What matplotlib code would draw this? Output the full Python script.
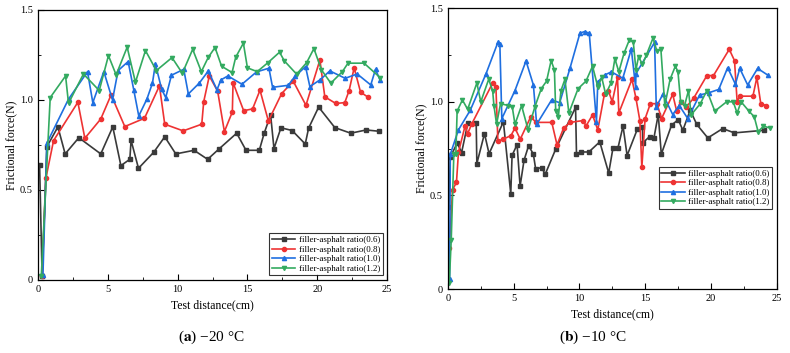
import matplotlib
matplotlib.use("Agg")
import matplotlib.pyplot as plt
from matplotlib.ticker import MultipleLocator

plt.rcParams['font.family'] = ['Liberation Serif', 'DejaVu Serif']
plt.rcParams['mathtext.fontset'] = 'stix'

# ---- (a) -20 C ----
a_x06 = [0.12, 0.3, 0.64, 1.43, 1.95, 2.93, 4.5, 5.36, 5.94, 6.58, 6.67, 7.2, 8.3, 9.08, 9.87,
         11.18, 12.15, 13.0, 14.23, 14.9, 15.85, 16.2, 16.66, 16.9, 17.4, 18.2, 19.14, 19.38,
         20.1, 21.26, 22.4, 23.5, 24.4]
a_y06 = [0.64, 0.02, 0.74, 0.85, 0.70, 0.79, 0.70, 0.85, 0.635, 0.67, 0.775, 0.62, 0.71, 0.795,
         0.70, 0.72, 0.67, 0.73, 0.815, 0.72, 0.72, 0.815, 0.917, 0.73, 0.845, 0.83, 0.755, 0.843,
         0.96, 0.846, 0.815, 0.833, 0.826]
a_x08 = [0.3, 0.57, 1.12, 2.86, 3.36, 4.5, 5.24, 6.22, 7.63, 8.7, 9.08, 10.4, 11.73, 11.87,
         12.27, 12.87, 13.35, 13.92, 13.97, 14.73, 15.37, 15.9, 16.5, 17.45, 18.28, 19.19, 20.19,
         20.54, 21.33, 21.97, 22.28, 22.64, 23.1, 23.6]
a_y08 = [0.02, 0.565, 0.774, 0.987, 0.787, 0.894, 1.028, 0.852, 0.898, 1.078, 0.865, 0.828,
         0.865, 0.99, 1.133, 1.048, 0.824, 0.933, 1.096, 0.94, 0.95, 1.054, 0.883, 1.035, 1.104,
         0.97, 1.222, 1.017, 0.98, 0.985, 1.052, 1.178, 1.043, 1.017]
a_x10 = [0.36, 0.64, 2.19, 3.55, 3.93, 4.72, 5.34, 5.74, 6.46, 6.86, 7.22, 7.8, 8.2, 8.41, 8.86,
         9.15, 9.56, 10.44, 10.77, 11.56, 12.2, 12.82, 13.1, 13.6, 14.61, 15.66, 16.54, 16.8,
         17.92, 18.4, 19.16, 19.47, 20.19, 20.9, 22.0, 22.86, 23.83, 24.17, 24.5]
a_y10 = [0.03, 0.76, 1.004, 1.157, 0.985, 1.157, 1.0, 1.163, 1.213, 1.056, 0.911, 1.004, 1.093,
         1.2, 1.059, 1.013, 1.137, 1.17, 1.033, 1.094, 1.161, 1.056, 1.111, 1.133, 1.087, 1.156,
         1.176, 1.07, 1.081, 1.13, 1.185, 1.074, 1.111, 1.161, 1.12, 1.144, 1.083, 1.17, 1.109]
a_x12 = [0.24, 0.88, 1.98, 2.19, 3.26, 4.39, 5.05, 5.6, 6.39, 6.98, 7.7, 8.48, 9.6, 10.34, 11.08,
         11.7, 12.2, 12.68, 13.15, 13.9, 14.16, 14.71, 15.0, 15.7, 16.47, 17.3, 17.64, 18.52,
         19.24, 19.76, 20.3, 20.97, 21.8, 22.2, 23.35, 24.5]
a_y12 = [0.02, 1.013, 1.133, 0.981, 1.144, 1.052, 1.246, 1.139, 1.293, 1.098, 1.274, 1.163,
         1.235, 1.148, 1.281, 1.157, 1.237, 1.291, 1.187, 1.152, 1.237, 1.315, 1.178, 1.157,
         1.207, 1.265, 1.217, 1.143, 1.207, 1.285, 1.167, 1.093, 1.157, 1.204, 1.204, 1.124]

# ---- (b) -10 C ----
b_x06 = [0.08, 0.18, 0.71, 1.04, 1.52, 2.15, 2.2, 2.78, 3.13, 4.22, 4.78, 4.88, 5.26, 5.49,
         5.79, 6.14, 6.5, 6.67, 7.13, 7.4, 8.19, 9.71, 9.78, 10.09, 10.72, 11.55, 12.23, 12.56,
         12.94, 13.32, 13.63, 14.41, 14.79, 14.84, 15.34, 15.67, 16.0, 16.23, 17.01, 17.52,
         17.87, 18.43, 18.93, 19.77, 20.9, 21.79, 24.06]
b_y06 = [0.44, 0.705, 0.78, 0.729, 0.888, 0.888, 0.67, 0.83, 0.723, 0.893, 0.509, 0.714, 0.771,
         0.55, 0.688, 0.766, 0.72, 0.643, 0.648, 0.613, 0.746, 0.97, 0.72, 0.732, 0.732, 0.786,
         0.62, 0.755, 0.755, 0.87, 0.713, 0.854, 0.866, 0.782, 0.814, 0.807, 0.932, 0.72, 0.875,
         0.905, 0.848, 0.955, 0.879, 0.807, 0.857, 0.834, 0.848]
b_x08 = [0.1, 0.35, 0.65, 0.8, 1.3, 1.5, 1.8, 3.4, 3.65, 3.8, 4.2, 4.8, 5.1, 5.5, 6.3, 6.7, 7.9,
         8.3, 8.8, 9.3, 10.3, 10.5, 11.0, 11.4, 11.9, 12.2, 12.5, 12.9, 13.0, 14.0, 14.3, 14.6,
         14.75, 15.0, 15.4, 15.9, 16.25, 17.1, 17.4, 17.7, 18.1, 18.7, 19.7, 20.2, 21.4, 21.8,
         22.0, 22.2, 23.2, 23.5, 23.8, 24.2]
b_y08 = [0.22, 0.53, 0.57, 0.73, 0.87, 0.83, 0.88, 1.1, 1.08, 0.79, 0.80, 0.82, 0.86, 0.80,
         0.92, 0.89, 0.89, 0.77, 0.86, 0.89, 0.90, 0.87, 0.93, 0.85, 1.04, 1.06, 1.0, 1.13, 0.94,
         1.12, 1.02, 0.90, 0.65, 0.91, 0.99, 0.99, 0.91, 1.04, 0.95, 1.0, 0.97, 1.02, 1.14, 1.14,
         1.28, 1.22, 1.0, 1.03, 1.03, 1.13, 0.99, 0.98]
b_x10 = [0.13, 0.18, 0.8, 1.7, 2.9, 3.8, 3.95, 4.1, 5.1, 5.94, 6.5, 6.75, 7.89, 8.5, 9.28, 10.04,
         10.4, 10.75, 11.3, 11.4, 11.93, 12.44, 13.3, 13.95, 14.28, 14.3, 15.72, 15.85, 16.35,
         17.1, 17.6, 18.25, 19.14, 19.84, 20.6, 21.28, 21.87, 22.2, 22.8, 23.56, 24.32]
b_y10 = [0.054, 0.72, 0.85, 0.955, 1.15, 1.317, 1.31, 0.91, 1.06, 1.218, 1.09, 0.88, 1.01,
         0.995, 1.178, 1.366, 1.375, 1.366, 0.893, 1.107, 1.143, 1.16, 1.125, 1.282, 1.077,
         1.15, 1.317, 0.973, 1.04, 0.932, 0.98, 0.91, 1.036, 1.048, 1.066, 1.182, 1.094, 1.178,
         1.09, 1.178, 1.143]
b_x12 = [0.1, 0.25, 0.45, 0.6, 0.7, 1.1, 1.5, 2.2, 2.5, 3.1, 3.4, 3.5, 3.7, 4.0, 4.6, 4.9, 5.1,
         5.6, 6.1, 6.6, 7.1, 7.5, 7.85, 8.1, 8.2, 8.4, 8.6, 8.9, 9.2, 9.9, 10.5, 11.0, 11.4,
         11.7, 12.0, 12.4, 12.7, 13.0, 13.4, 13.8, 14.1, 14.3, 14.5, 14.8, 15.1, 15.6, 15.9,
         16.2, 16.5, 16.9, 17.3, 17.5, 17.7, 18.0, 18.3, 18.5, 19.2, 19.7, 20.3, 21.2, 21.7,
         22.0, 22.3, 22.9, 23.3, 23.6, 24.0, 24.5]
b_y12 = [0.03, 0.26, 0.72, 0.72, 0.95, 1.01, 0.96, 1.1, 1.0, 1.12, 1.06, 0.98, 0.88, 0.99, 0.98,
         0.97, 0.88, 0.98, 0.85, 0.97, 1.07, 1.11, 1.22, 1.17, 0.95, 0.92, 1.06, 1.12, 0.94,
         1.07, 1.11, 1.19, 1.08, 1.13, 1.04, 1.1, 1.23, 1.16, 1.26, 1.33, 1.32, 1.17, 1.24, 1.2,
         1.25, 1.34, 1.27, 1.28, 0.98, 1.12, 1.19, 1.16, 1.0, 0.98, 1.06, 0.93, 0.99, 1.06, 0.95,
         1.0, 1.0, 0.94, 1.0, 0.95, 0.92, 0.84, 0.87, 0.86]

labels = ["filler-asphalt ratio(0.6)", "filler-asphalt ratio(0.8)",
          "filler-asphalt ratio(1.0)", "filler-asphalt ratio(1.2)"]
colors = ["#3a3a3a", "#ee3333", "#1f6fe0", "#33aa60"]
markers = ["s", "o", "^", "v"]


def draw(ax, series):
    for (x, y), lab, c, m in zip(series, labels, colors, markers):
        ax.plot(x, y, color=c, marker=m, markersize=3, linewidth=1.2, label=lab)
    ax.set_xlim(0, 25)
    ax.set_ylim(0, 1.5)
    ax.xaxis.set_major_locator(MultipleLocator(5))
    ax.xaxis.set_minor_locator(MultipleLocator(2.5))
    ax.yaxis.set_major_locator(MultipleLocator(0.5))
    ax.yaxis.set_minor_locator(MultipleLocator(0.25))
    ax.yaxis.set_major_formatter(
        plt.FuncFormatter(lambda v, p: "0" if v == 0 else "%.1f" % v))
    ax.tick_params(which="both", direction="in", labelsize=7.5)
    ax.tick_params(which="major", length=4)
    ax.tick_params(which="minor", length=2)
    ax.set_xlabel("Test distance(cm)", fontsize=8.5)
    ax.set_ylabel("Frictional force(N)", fontsize=8.5, labelpad=2)
    for s in ax.spines.values():
        s.set_linewidth(0.9)


fig = plt.figure(figsize=(7.9, 3.53), dpi=100)
ax1 = fig.add_axes([0.048, 0.207, 0.442, 0.765])
ax2 = fig.add_axes([0.567, 0.181, 0.416, 0.796])

draw(ax1, [(a_x06, a_y06), (a_x08, a_y08), (a_x10, a_y10), (a_x12, a_y12)])
draw(ax2, [(b_x06, b_y06), (b_x08, b_y08), (b_x10, b_y10), (b_x12, b_y12)])

leg_kw = dict(fontsize=6.4, frameon=True, fancybox=False, edgecolor="black",
              handlelength=2.6, borderpad=0.3, labelspacing=0.15, handletextpad=0.4)
l1 = ax1.legend(loc="lower right", bbox_to_anchor=(1.0, 0.0), **leg_kw)
l2 = ax2.legend(loc="center right", bbox_to_anchor=(1.0, 0.36), **leg_kw)
for l in (l1, l2):
    l.get_frame().set_linewidth(0.8)

fig.text(0.268, 0.035, r"($\mathbf{a}$) −20 °C", ha="center", fontsize=11)
fig.text(0.75, 0.035, r"($\mathbf{b}$) −10 °C", ha="center", fontsize=11)

fig.savefig("out.png", dpi=100)
